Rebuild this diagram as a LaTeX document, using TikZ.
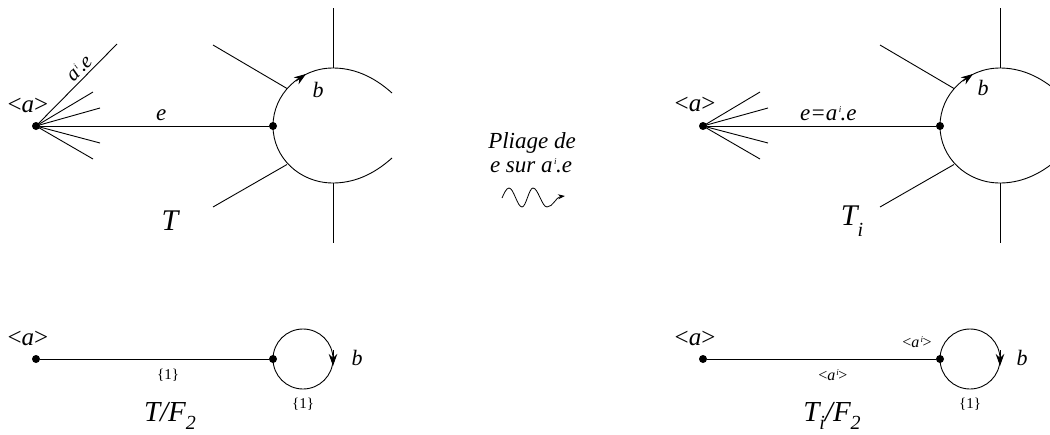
\documentclass[tikz,border=0pt]{standalone}
\usepackage{fontspec}
\setmainfont{Liberation Serif}
\usetikzlibrary{arrows.meta}
\newcommand{\aisup}{\textit{a}\kern0.07em\raisebox{0.75ex}{\fontsize{9}{9}\selectfont\textit{i}}\kern-0.03em}
\begin{document}
\begin{tikzpicture}[x=1pt,y=-1pt,line width=0.9pt,
  dot/.style={circle,fill,inner sep=0pt,minimum size=8pt},
  lab/.style={inner sep=0pt,font=\fontsize{23}{23}\selectfont\itshape},
  biglab/.style={inner sep=0pt,font=\fontsize{30}{30}\selectfont\itshape},
  smalllab/.style={inner sep=0pt,font=\fontsize{15}{15}\selectfont},
  tip/.style={-{Stealth[length=12pt,width=8.5pt]}}]
\useasboundingbox (0,0) rectangle (1050,434);
\begin{scope}
\clip (0,0) rectangle (1050,434);
% ---------- top left: T ----------
\node[dot] (a1) at (36,126) {};
\node[dot] (n1) at (273,126) {};
\draw (a1) -- node[lab,above=5pt,pos=0.53] (e1) {e} (n1);
\coordinate (f1) at (117,44);
\coordinate (f2) at (93,92);
\coordinate (f3) at (100,108);
\coordinate (f4) at (100,143);
\coordinate (f5) at (93,159);
\draw (a1.center) -- node[lab,sloped,above=3pt,pos=0.62,font=\fontsize{21}{21}\selectfont\itshape] (ae1) {\aisup.e} (f1);
\foreach \p in {f2,f3,f4,f5} \draw (a1.center) -- (\p);
\node[lab,font=\fontsize{25}{25}\selectfont] (la1) at (28,105) {<\textit{a}>};
\draw (392,93) .. controls (372,75) and (352,68) .. (333,68)
      .. controls (300,68) and (273,94) .. (273,126)
      .. controls (273,158) and (300,183) .. (333,183)
      .. controls (352,183) and (372,176) .. (392,158);
\draw (213,45) -- (287,88.5);
\draw (213,207) -- (287,164.5);
\draw (333,8) -- (333,68);
\draw (333,183) -- (333,243);
\draw[tip] (296,81) -- (306,74);
\node[lab,font=\fontsize{22}{22}\selectfont\itshape] (b1) at (318,90) {b};
\node[biglab] (T1) at (170,221) {T};
% ---------- top right: T_i ----------
\node[dot] (a2) at (703,126) {};
\node[dot] (n2) at (940,126) {};
\draw (a2) -- node[lab,above=5pt,pos=0.53] (e2) {e=\aisup.e} (n2);
\coordinate (g2) at (760,92);
\coordinate (g3) at (768,108);
\coordinate (g4) at (768,143);
\coordinate (g5) at (760,159);
\foreach \p in {g2,g3,g4,g5} \draw (a2.center) -- (\p);
\node[lab,font=\fontsize{25}{25}\selectfont] (la2) at (695,104) {<\textit{a}>};
\draw (1059,93) .. controls (1039,75) and (1019,68) .. (1000,68)
      .. controls (967,68) and (940,94) .. (940,126)
      .. controls (940,158) and (967,183) .. (1000,183)
      .. controls (1019,183) and (1039,176) .. (1059,158);
\draw (880,45) -- (954,88.5);
\draw (880,207) -- (954,164.5);
\draw (1000,8) -- (1000,68);
\draw (1000,183) -- (1000,243);
\draw[tip] (963,81) -- (973,74);
\node[lab,font=\fontsize{22}{22}\selectfont\itshape] (b2) at (983,88) {b};
\node[biglab] (T2) at (852,221) {T\raisebox{-0.35em}{\fontsize{20}{20}\selectfont\textit{i}}};
% ---------- middle ----------
\node[lab,font=\fontsize{23}{23}\selectfont\itshape] (pl1) at (532,143) {Pliage de};
\node[lab,font=\fontsize{23}{23}\selectfont\itshape] (pl2) at (531,166) {e sur \aisup.e};
\coordinate (w0) at (502,198);
\coordinate (w1) at (565,196);
\draw[line width=0.8pt,-{Stealth[length=7pt,width=5pt]}] (w0) sin (509,188) cos (515.5,197.5) sin (522,207) cos (527.5,197.5) sin (533,188) cos (540,197.5) sin (547,207)
   .. controls (553,207) and (556,197) .. (w1);
% ---------- bottom left: T/F2 ----------
\node[dot] (a3) at (36,359) {};
\node[dot] (n3) at (273,359) {};
\draw (a3) -- node[smalllab,below=10pt,pos=0.56] (c1) {\{1\}} (n3);
\coordinate (c3) at (303,359);
\draw (c3) circle (30);
\draw[tip] (333,350) -- (333,366);
\node[lab,font=\fontsize{22}{22}\selectfont\itshape] (b3) at (357,358) {b};
\node[smalllab] (c2) at (303,404) {\{1\}};
\node[lab,font=\fontsize{25}{25}\selectfont] (la3) at (28,338) {<\textit{a}>};
\node[biglab,font=\fontsize{29}{29}\selectfont\itshape] (T3) at (170,416) {T/F\raisebox{-0.3em}{\fontsize{20}{20}\selectfont 2}};
% ---------- bottom right: T_i/F2 ----------
\node[dot] (a4) at (703,359) {};
\node[dot] (n4) at (940,359) {};
\draw (a4) -- node[smalllab,below=10pt,pos=0.55,font=\fontsize{16}{16}\selectfont] (d1) {<\aisup>} (n4);
\coordinate (c4) at (970,359);
\draw (c4) circle (30);
\draw[tip] (1000,350) -- (1000,366);
\node[lab,font=\fontsize{22}{22}\selectfont\itshape] (b4) at (1022,358) {b};
\node[smalllab] (d2) at (970,404) {\{1\}};
\node[smalllab,font=\fontsize{16}{16}\selectfont] (d3) at (917,342) {<\aisup>};
\node[lab,font=\fontsize{25}{25}\selectfont] (la4) at (695,338) {<\textit{a}>};
\node[biglab,font=\fontsize{29}{29}\selectfont\itshape] (T4) at (832,416) {T\raisebox{-0.3em}{\fontsize{20}{20}\selectfont\textit{i}}/F\raisebox{-0.3em}{\fontsize{20}{20}\selectfont 2}};
\end{scope}
\end{tikzpicture}
\end{document}
